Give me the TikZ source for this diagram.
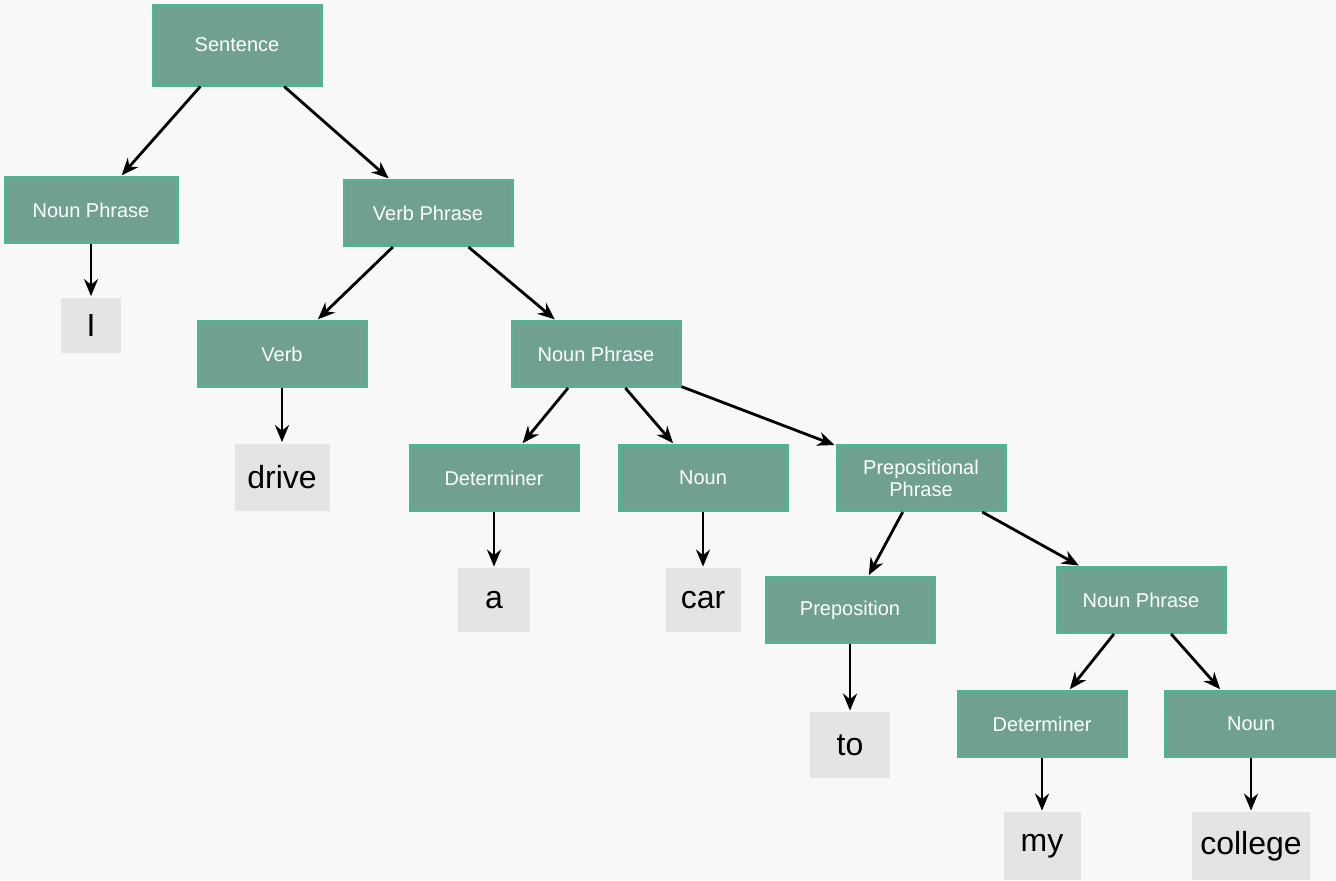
\documentclass[tikz,border=0pt]{standalone}
\usepackage{fontspec}
\setmainfont{Liberation Sans}
\usetikzlibrary{arrows.meta}

\definecolor{boxfill}{RGB}{112,160,144}
\definecolor{boxedge}{RGB}{84,178,144}
\definecolor{leaffill}{RGB}{228,228,228}
\definecolor{paper}{RGB}{248,248,248}

\tikzset{
  phrase/.style = {draw = boxedge, line width = 1.5pt, fill = boxfill, text = white,
    font = \fontsize{10}{11}\selectfont, align = center,
    minimum width = 84pt, minimum height = 32.5pt, inner sep = 2pt},
  word/.style = {fill = leaffill, text = black, font = \fontsize{16}{18}\selectfont,
    minimum height = 32pt, inner sep = 3pt},
  link/.style = {line width = 1.4pt, -{Stealth[length=8.5pt, width=7pt]}, shorten > = 0.5pt}
}

\begin{document}
\begin{tikzpicture}[x = 0.5pt, y = -0.5pt]

\fill[paper] (0,0) rectangle (1336,880);
\useasboundingbox (0,0) rectangle (1336,880);

% phrase boxes
\node[phrase, minimum height = 40pt] (s) at (237,45) {Sentence};
\node[phrase, minimum width = 86pt] (np) at (91,210) {Noun Phrase};
\node[phrase] (vp) at (428,213) {Verb Phrase};
\node[phrase] (v) at (282,354) {Verb};
\node[phrase] (np2) at (596,354) {Noun Phrase};
\node[phrase] (det) at (494,478) {Determiner};
\node[phrase] (n) at (703,478) {Noun};
\node[phrase] (pp) at (921,478) {Prepositional\\Phrase};
\node[phrase] (prep) at (850,610) {Preposition};
\node[phrase] (np3) at (1141,600) {Noun Phrase};
\node[phrase] (det2) at (1042,724) {Determiner};
\node[phrase, minimum width = 86pt] (n2) at (1251,724) {Noun};

% words
\node[word, minimum width = 30pt, minimum height = 27.5pt] (wI) at (91,325) {I};
\node[word, minimum width = 47.5pt, minimum height = 33.5pt] (wdrive) at (282,477) {drive};
\node[word, minimum width = 36pt] (wa) at (494,600) {a};
\node[word, minimum width = 37.5pt] (wcar) at (703,600) {car};
\node[word, minimum width = 40pt, minimum height = 33pt] (wto) at (850,745) {to};
\node[word, minimum width = 38.5pt, minimum height = 34pt] (wmy) at (1042,846) {my};
\node[word, minimum width = 59pt, minimum height = 34pt] (wcollege) at (1251,846) {college};

% tree links
\draw[link] (s) -- (np);
\draw[link] (s) -- (vp);
\draw[link] (vp) -- (v);
\draw[link] (vp) -- (np2);
\draw[link] (np2) -- (det);
\draw[link] (np2) -- (n);
\draw[link] (np2) -- (pp);
\draw[link] (pp) -- (prep);
\draw[link] (pp) -- (np3);
\draw[link] (np3) -- (det2);
\draw[link] (np3) -- (n2);

% down to the words
\draw[link] (np) -- (wI);
\draw[link] (v) -- (wdrive);
\draw[link] (det) -- (wa);
\draw[link] (n) -- (wcar);
\draw[link] (prep) -- (wto);
\draw[link] (det2) -- (wmy);
\draw[link] (n2) -- (wcollege);
\end{tikzpicture}
\end{document}
